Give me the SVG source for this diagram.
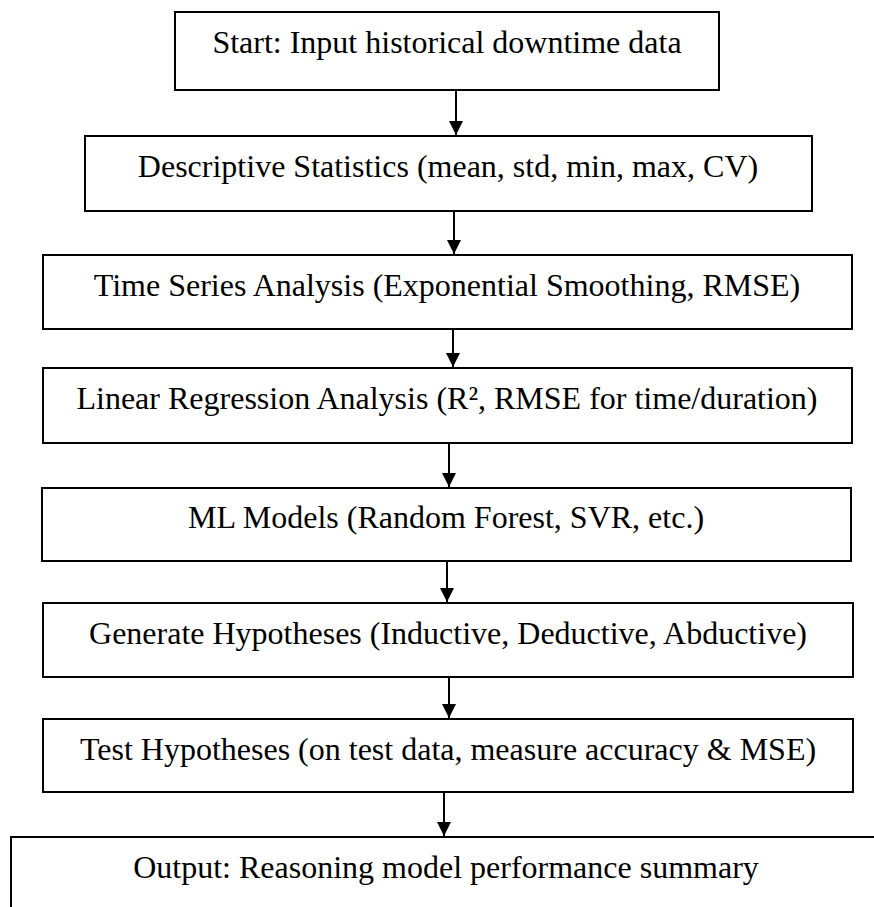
<svg xmlns="http://www.w3.org/2000/svg" width="874" height="907" viewBox="0 0 874 907">
<style>
.box{fill:#fff;stroke:#000;stroke-width:2}
.lbl{font-family:"Liberation Serif","Times New Roman",serif;font-size:32px;fill:#000;text-anchor:middle}
.arr{stroke:#000;stroke-width:2;fill:none;marker-end:url(#ah)}
</style>
<defs>
<marker id="ah" markerUnits="userSpaceOnUse" markerWidth="14" markerHeight="14" refX="14" refY="7" orient="auto">
<path d="M0,0 L14,7 L0,14 Z" fill="#000"/>
</marker>
</defs>
<rect width="874" height="907" fill="#fff"/>
<g id="connectors">
<line class="arr" x1="456" y1="90" x2="456" y2="135"/>
<line class="arr" x1="454" y1="211" x2="454" y2="254"/>
<line class="arr" x1="453" y1="329" x2="453" y2="367"/>
<line class="arr" x1="449" y1="443" x2="449" y2="487"/>
<line class="arr" x1="447" y1="561" x2="447" y2="602"/>
<line class="arr" x1="449" y1="677" x2="449" y2="718"/>
<line class="arr" x1="444" y1="792" x2="444" y2="836"/>
</g>
<g id="n1"><rect class="box" x="175" y="12" width="544" height="78"/><text class="lbl" x="447" y="53">Start: Input historical downtime data</text></g>
<g id="n2"><rect class="box" x="85" y="136" width="727" height="75"/><text class="lbl" x="448" y="177">Descriptive Statistics (mean, std, min, max, CV)</text></g>
<g id="n3"><rect class="box" x="43" y="255" width="809" height="74"/><text class="lbl" x="447" y="296">Time Series Analysis (Exponential Smoothing, RMSE)</text></g>
<g id="n4"><rect class="box" x="43" y="368" width="809" height="75"/><text class="lbl" x="447" y="409">Linear Regression Analysis (R², RMSE for time/duration)</text></g>
<g id="n5"><rect class="box" x="42" y="488" width="809" height="73"/><text class="lbl" x="446" y="528">ML Models (Random Forest, SVR, etc.)</text></g>
<g id="n6"><rect class="box" x="43" y="603" width="810" height="74"/><text class="lbl" x="448" y="644">Generate Hypotheses (Inductive, Deductive, Abductive)</text></g>
<g id="n7"><rect class="box" x="43" y="719" width="810" height="73"/><text class="lbl" x="448" y="760">Test Hypotheses (on test data, measure accuracy &amp; MSE)</text></g>
<g id="n8"><rect class="box" x="11" y="837" width="870" height="90"/><text class="lbl" x="446" y="878">Output: Reasoning model performance summary</text></g>
</svg>
